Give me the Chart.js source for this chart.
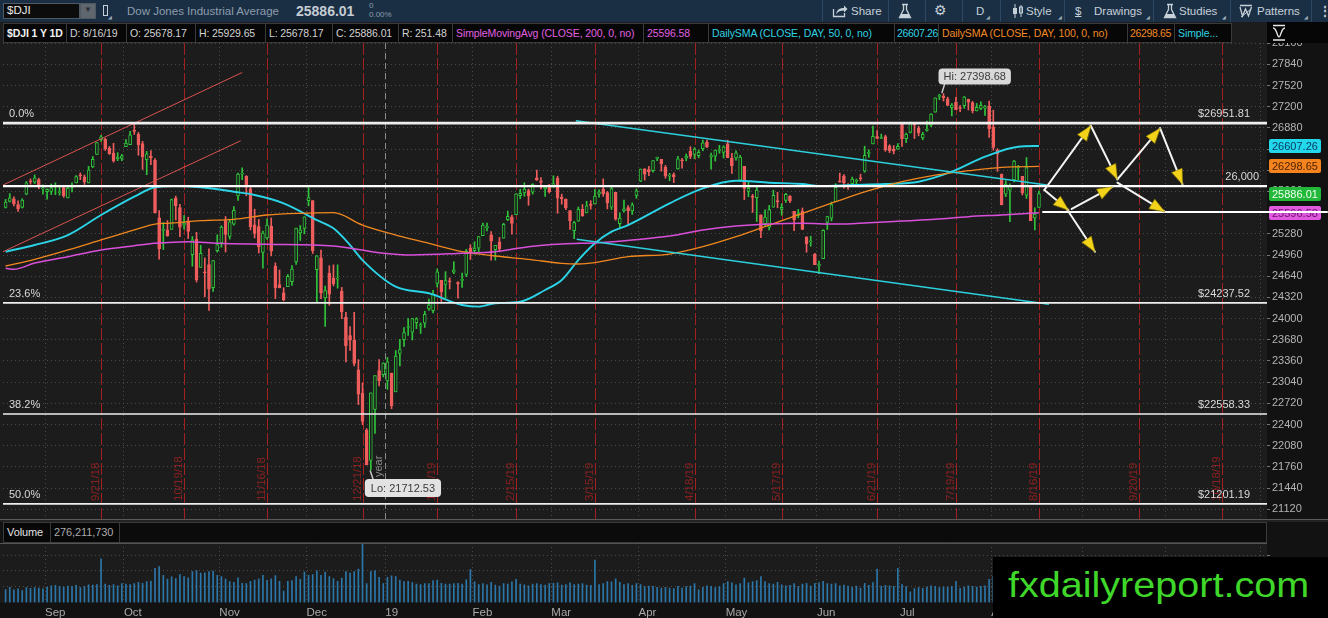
<!DOCTYPE html>
<html>
<head>
<meta charset="utf-8">
<title>$DJI 1 Y 1D</title>
<script src="https://cdn.jsdelivr.net/npm/chart.js@4.4.1/dist/chart.umd.min.js"></script>
<style>
html,body{margin:0;padding:0;background:#0b0b0b;overflow:hidden;}
#root{position:relative;width:1328px;height:618px;overflow:hidden;font-family:"Liberation Sans",Arial,sans-serif;background:#121212;}
.a{position:absolute;white-space:nowrap;}
#top{left:0;top:0;width:1328px;height:22px;background:#1a2f44;}
.tt{top:4px;font-size:11.5px;color:#c6d0d9;line-height:14px;}
.sep{top:0;width:1px;height:22px;background:#2c4862;}
.corner{font-size:5px;color:#9fb0bf;top:14px;}
#leg{left:0;top:22px;width:1328px;height:21px;background:#1c1c1c;}
.cell{top:1px;height:20px;line-height:19px;font-size:10.5px;letter-spacing:-0.1px;color:#d2d2d2;background:#070707;border:1px solid #3a3a3a;border-left:none;padding-left:3px;box-sizing:border-box;overflow:hidden;}
.num{letter-spacing:-0.35px;padding-left:2px;}
.mag{color:#e060e0;} .cya{color:#2fd3e3;} .ora{color:#f08a26;}
canvas{position:absolute;left:0;}
</style>
</head>
<body>
<div id="root">
  <div id="top" class="a">
    <div class="a" style="left:3px;top:3px;width:77px;height:16px;background:#0c0c0c;border:1px solid #4d5a66;box-sizing:border-box;"></div>
    <div class="a" style="left:7px;top:4px;font-size:11.5px;color:#e8e8e8;">$DJI</div>
    <div class="a" style="left:80px;top:3px;width:16px;height:16px;background:#5f666d;box-sizing:border-box;border:1px solid #4d5a66;"></div>
    <div class="a" style="left:84px;top:5px;font-size:8px;color:#2a2f35;">▼</div>
    <div class="a" style="left:103px;top:5px;width:5px;height:11px;border:1px solid #c6d0d9;box-sizing:border-box;"></div>
    <div class="a corner" style="left:108px;">◢</div>
    <div class="a tt" style="left:127px;color:#8d9dac;">Dow Jones Industrial Average</div>
    <div class="a" style="left:296px;top:3px;font-size:14px;font-weight:bold;color:#c5ccd3;">25886.01</div>
    <div class="a" style="left:369px;top:1px;font-size:8px;color:#8d9dac;line-height:9px;">0<br>0.00%</div>

    <div class="a sep" style="left:822px;"></div>
    <svg class="a" style="left:832px;top:4px;" width="16" height="14" viewBox="0 0 16 14"><path d="M1.5 5v7.5h11V9" stroke="#c6d0d9" stroke-width="1.3" fill="none"/><path d="M4 10c1-4.5 4-6 8-6V1.5l3.5 3.5L12 8.5V6.5c-3.5 0-6 1-8 3.5z" fill="#c6d0d9"/></svg>
    <div class="a tt" style="left:851px;">Share</div>
    <div class="a sep" style="left:888px;"></div>
    <svg class="a" style="left:898px;top:3px;" width="14" height="16" viewBox="0 0 14 16"><path d="M4 1.5h6M5.5 1.5v5L1.5 14.5h11L8.5 6.5v-5" stroke="#c6d0d9" stroke-width="1.3" fill="none"/><path d="M3.2 11h7.6l1.4 3.2H1.8z" fill="#c6d0d9"/></svg>
    <div class="a sep" style="left:925px;"></div>
    <div class="a" style="left:934px;top:2px;font-size:14px;color:#c6d0d9;font-family:'DejaVu Sans';">⚙</div>
    <div class="a sep" style="left:962px;"></div>
    <div class="a tt" style="left:976px;">D</div>
    <div class="a corner" style="left:986px;">◢</div>
    <div class="a sep" style="left:1000px;"></div>
    <svg class="a" style="left:1012px;top:4px;" width="12" height="14" viewBox="0 0 12 14"><path d="M3 0v14M9 1v12" stroke="#c6d0d9" stroke-width="1"/><rect x="1" y="4" width="4" height="6" fill="#c6d0d9"/><rect x="7.5" y="3" width="3" height="6" fill="none" stroke="#c6d0d9"/></svg>
    <div class="a tt" style="left:1026px;">Style</div>
    <div class="a corner" style="left:1058px;">◢</div>
    <div class="a sep" style="left:1064px;"></div>
    <div class="a tt" style="left:1075px;text-decoration:underline;">$</div>
    <div class="a tt" style="left:1094px;">Drawings</div>
    <div class="a corner" style="left:1146px;">◢</div>
    <div class="a sep" style="left:1153px;"></div>
    <svg class="a" style="left:1163px;top:3px;" width="14" height="16" viewBox="0 0 14 16"><path d="M4 1.5h6M5.5 1.5v5L1.5 14.5h11L8.5 6.5v-5" stroke="#c6d0d9" stroke-width="1.3" fill="none"/><path d="M3.2 11h7.6l1.4 3.2H1.8z" fill="#c6d0d9"/></svg>
    <div class="a tt" style="left:1179px;">Studies</div>
    <div class="a corner" style="left:1222px;">◢</div>
    <div class="a sep" style="left:1230px;"></div>
    <svg class="a" style="left:1239px;top:4px;" width="14" height="14" viewBox="0 0 14 14"><path d="M1 1.5h12M1 3l2.5 9 3-7 3 7L12.5 3" stroke="#c6d0d9" stroke-width="1.3" fill="none"/><path d="M2 13L12 5" stroke="#c6d0d9" stroke-width="1"/></svg>
    <div class="a tt" style="left:1257px;">Patterns</div>
    <div class="a corner" style="left:1304px;">◢</div>
    <div class="a sep" style="left:1311px;"></div>
    <div class="a tt" style="left:1319px;font-weight:bold;">⋮</div>
  </div>

  <div id="leg" class="a">
    <div class="a cell" style="left:3px;width:64px;border-left:1px solid #3a3a3a;color:#f2f2f2;font-weight:bold;">$DJI 1 Y 1D</div>
    <div class="a cell" style="left:67px;width:60px;">D: 8/16/19</div>
    <div class="a cell" style="left:127px;width:69px;">O: 25678.17</div>
    <div class="a cell" style="left:196px;width:70px;">H: 25929.65</div>
    <div class="a cell" style="left:266px;width:67px;">L: 25678.17</div>
    <div class="a cell" style="left:333px;width:66px;">C: 25886.01</div>
    <div class="a cell" style="left:399px;width:54px;">R: 251.48</div>
    <div class="a cell mag" style="left:453px;width:191px;">SimpleMovingAvg (CLOSE, 200, 0, no)</div>
    <div class="a cell mag" style="left:644px;width:65px;">25596.58</div>
    <div class="a cell cya" style="left:709px;width:186px;">DailySMA (CLOSE, DAY, 50, 0, no)</div>
    <div class="a cell cya num" style="left:895px;width:44px;">26607.26</div>
    <div class="a cell ora" style="left:939px;width:189px;">DailySMA (CLOSE, DAY, 100, 0, no)</div>
    <div class="a cell ora num" style="left:1128px;width:47px;">26298.65</div>
    <div class="a cell cya" style="left:1175px;width:57px;">Simple...</div>
    <div class="a" style="left:1267px;top:0;width:61px;height:21px;background:#060606;"></div>
    <svg class="a" style="left:1270px;top:1px;" width="20" height="19" viewBox="0 0 20 19"><path d="M3 2.5h12M3 17h12" stroke="#e6e6e6" stroke-width="1.6"/><path d="M3 14c4 0 4-9 6-9s2 9 6 9" stroke="#e6e6e6" stroke-width="1.4" fill="none" transform="scale(1,-1) translate(0,-19)"/></svg>
  </div>

  <canvas id="pc" width="1328" height="476" style="top:43px;"></canvas>

  <div class="a" style="left:0;top:519px;width:1328px;height:3px;background:#222;border-top:1px solid #5a5a5a;box-sizing:border-box;"></div>
  <div class="a" style="left:0;top:522px;width:1328px;height:21px;background:#121212;">
    <div class="a" style="left:3px;top:0;width:1264px;height:21px;background:#0b0b0b;border:1px solid #3a3a3a;box-sizing:border-box;"></div>
    <div class="a cell" style="left:3px;top:0;width:48px;height:21px;border-left:1px solid #3a3a3a;color:#e2e2e2;font-size:11px;">Volume</div>
    <div class="a cell" style="left:51px;top:0;width:69px;height:21px;color:#a9a9a9;font-size:11px;">276,211,730</div>
  </div>

  <canvas id="vc" width="1328" height="75" style="top:543px;"></canvas>

  <div class="a" style="left:993px;top:557px;width:335px;height:61px;background:#000;overflow:hidden;">
    <div class="a" style="left:15px;top:8px;font-size:35px;line-height:40px;color:#3fd82a;transform:scaleX(1.13);transform-origin:0 0;font-family:'Liberation Sans',Arial,sans-serif;">fxdailyreport.com</div>
  </div>
</div>

<script>
// ---------------- DATA ----------------
const DATES = ("8/20/18 8/21/18 8/22/18 8/23/18 8/24/18 8/27/18 8/28/18 8/29/18 8/30/18 8/31/18 " +
"9/4/18 9/5/18 9/6/18 9/7/18 9/10/18 9/11/18 9/12/18 9/13/18 9/14/18 9/17/18 9/18/18 9/19/18 9/20/18 9/21/18 9/24/18 9/25/18 9/26/18 9/27/18 9/28/18 " +
"10/1/18 10/2/18 10/3/18 10/4/18 10/5/18 10/8/18 10/9/18 10/10/18 10/11/18 10/12/18 10/15/18 10/16/18 10/17/18 10/18/18 10/19/18 10/22/18 10/23/18 10/24/18 10/25/18 10/26/18 10/29/18 10/30/18 10/31/18 " +
"11/1/18 11/2/18 11/5/18 11/6/18 11/7/18 11/8/18 11/9/18 11/12/18 11/13/18 11/14/18 11/15/18 11/16/18 11/19/18 11/20/18 11/21/18 11/23/18 11/26/18 11/27/18 11/28/18 11/29/18 11/30/18 " +
"12/3/18 12/4/18 12/6/18 12/7/18 12/10/18 12/11/18 12/12/18 12/13/18 12/14/18 12/17/18 12/18/18 12/19/18 12/20/18 12/21/18 12/24/18 12/26/18 12/27/18 12/28/18 12/31/18 " +
"1/2/19 1/3/19 1/4/19 1/7/19 1/8/19 1/9/19 1/10/19 1/11/19 1/14/19 1/15/19 1/16/19 1/17/19 1/18/19 1/22/19 1/23/19 1/24/19 1/25/19 1/28/19 1/29/19 1/30/19 1/31/19 " +
"2/1/19 2/4/19 2/5/19 2/6/19 2/7/19 2/8/19 2/11/19 2/12/19 2/13/19 2/14/19 2/15/19 2/19/19 2/20/19 2/21/19 2/22/19 2/25/19 2/26/19 2/27/19 2/28/19 " +
"3/1/19 3/4/19 3/5/19 3/6/19 3/7/19 3/8/19 3/11/19 3/12/19 3/13/19 3/14/19 3/15/19 3/18/19 3/19/19 3/20/19 3/21/19 3/22/19 3/25/19 3/26/19 3/27/19 3/28/19 3/29/19 " +
"4/1/19 4/2/19 4/3/19 4/4/19 4/5/19 4/8/19 4/9/19 4/10/19 4/11/19 4/12/19 4/15/19 4/16/19 4/17/19 4/18/19 4/22/19 4/23/19 4/24/19 4/25/19 4/26/19 4/29/19 4/30/19 " +
"5/1/19 5/2/19 5/3/19 5/6/19 5/7/19 5/8/19 5/9/19 5/10/19 5/13/19 5/14/19 5/15/19 5/16/19 5/17/19 5/20/19 5/21/19 5/22/19 5/23/19 5/24/19 5/28/19 5/29/19 5/30/19 5/31/19 " +
"6/3/19 6/4/19 6/5/19 6/6/19 6/7/19 6/10/19 6/11/19 6/12/19 6/13/19 6/14/19 6/17/19 6/18/19 6/19/19 6/20/19 6/21/19 6/24/19 6/25/19 6/26/19 6/27/19 6/28/19 " +
"7/1/19 7/2/19 7/3/19 7/5/19 7/8/19 7/9/19 7/10/19 7/11/19 7/12/19 7/15/19 7/16/19 7/17/19 7/18/19 7/19/19 7/22/19 7/23/19 7/24/19 7/25/19 7/26/19 7/29/19 7/30/19 7/31/19 " +
"8/1/19 8/2/19 8/5/19 8/6/19 8/7/19 8/8/19 8/9/19 8/12/19 8/13/19 8/14/19 8/15/19 8/16/19").split(' ');

const OPEN = [
25680,25770,25810,25720,25680,25880,26080,26060,26100,25960,
25917,25920,25991,25903,25979,25821,25982,26049,26160,26140,26050,26290,26480,26700,26706,26572,26500,26410,26420,
26598,26626,26833,26787,26643,26399,26454,26389,25523,25333,25341,25348,25820,25678,25412,25478,24964,25201,24774,24706,24815,24466,25025,
25144,25479,25242,25426,25851,26182,26150,25960,25415,25388,25001,25219,25395,24792,24512,24390,24482,24556,24856,25294,25360,
25779,25781,24739,24918,24311,24688,24613,24597,24410,24024,23743,23670,23225,22871,22317,21857,22629,23213,23154,
23058,23177,22894,23474,23680,23865,23794,23938,23884,23931,24146,24120,24530,24578,24516,24559,24701,24538,24578,24668,25063,
25025,25062,25254,25371,25265,25040,25161,25214,25493,25533,25569,25857,25898,25933,25910,26126,26080,25962,25979,
26019,26122,25836,25802,25631,25326,25471,25650,25596,25715,25730,25879,25956,25904,25681,25905,25435,25625,25676,25625,25860,
26076,26263,26250,26233,26420,26404,26288,26152,26175,26261,26395,26424,26527,26478,26462,26567,26664,26443,26454,26536,26509,
26639,26420,26428,26092,26300,25919,25850,25826,25565,25433,25382,25682,25783,25650,25784,25849,25621,25557,25625,25234,25158,24970,
24795,24906,25452,25517,25767,26073,26153,26009,26037,26071,26115,26226,26494,26637,26750,26719,26750,26608,26555,26560,
26964,26717,26812,26934,26876,26727,26843,26921,27116,27355,27360,27319,27185,27265,27185,27214,27313,27263,27135,27173,27178,27209,
26891,26544,26184,25880,25939,26094,26279,26149,25865,26009,25522,25678];

const HIGH = [
25800,25888,25840,25780,25810,26070,26110,26170,26120,26020,
25961,26032,26050,26013,25999,25986,26049,26158,26200,26168,26300,26448,26657,26769,26724,26600,26646,26506,26480,
26705,26828,26952,26811,26677,26525,26536,26415,25630,25450,25480,25805,25850,25724,25557,25531,25240,25304,25107,24916,25052,24876,25265,
25402,25541,25503,25690,26198,26277,26159,25997,25652,25497,25322,25508,25520,24841,24734,24466,24665,24801,25367,25405,25538,
25980,25781,24953,25036,24489,24798,24811,24812,24471,24096,23880,24096,23380,23030,22339,22878,23139,23381,23333,
23413,23177,23518,23687,23864,24000,24002,24014,23934,24111,24296,24425,24750,24578,24709,24615,24858,24557,24687,25046,25115,
25160,25239,25442,25441,25314,25106,25226,25440,25624,25563,25883,25953,26051,25955,26036,26242,26130,26009,26027,
26155,26150,25879,25807,25631,25467,25685,25723,25773,25780,25950,25946,26110,25920,25991,25905,25597,25791,25706,25748,25958,
26259,26263,26299,26385,26438,26404,26313,26194,26200,26451,26419,26486,26595,26582,26546,26696,26695,26500,26545,26616,26610,
26695,26495,26534,26467,26300,26062,25876,25994,25565,25643,25709,25939,25908,25734,25892,25856,25621,25648,25670,25234,25244,24985,
24868,25340,25545,25760,26037,26196,26176,26040,26136,26107,26179,26603,26548,26907,26838,26786,26770,26625,26612,26641,
26964,26800,26966,26934,26903,26814,26981,27097,27333,27388,27399,27344,27248,27340,27215,27353,27313,27279,27249,27274,27219,27286,
27148,26567,26184,26081,26034,26390,26314,26149,26432,26009,25673,25930];

const LOW = [
25670,25760,25700,25620,25670,25870,26030,26040,25960,25880,
25802,25874,25871,25863,25831,25821,25914,26049,26098,26026,26050,26280,26480,26674,26538,26480,26361,26384,26384,
26598,26626,26782,26466,26253,26173,26325,25593,24899,25043,25243,25348,25487,25236,25352,25209,24791,24552,24774,24329,24123,24412,25004,
25078,25005,25200,25409,25784,26097,25855,25339,25218,24990,24763,25194,24947,24300,24463,24268,24482,24499,24817,25180,25280,
25703,24983,24242,24301,23881,24202,24493,24460,23999,23344,23521,23286,22702,22397,21792,21713,22267,22982,23118,
22931,22639,22894,23287,23581,23746,23677,23849,23775,23866,24122,24087,24476,24259,24306,24447,24678,24307,24470,24634,24893,
24974,25007,25254,25322,24884,24883,25008,25214,25480,25273,25569,25809,25847,25711,25879,26088,25958,25843,25895,
25981,25590,25727,25643,25347,25208,25471,25544,25596,25652,25730,25832,25847,25657,25647,25486,25358,25608,25416,25573,25817,
26068,26092,26160,26210,26386,26226,26120,26082,26054,26257,26271,26382,26415,26414,26428,26534,26582,26256,26378,26497,26425,
26429,26193,26391,26085,25798,25841,25603,25466,25222,25402,25339,25682,25673,25561,25754,25749,25329,25522,25342,25002,25093,24815,
24680,24906,25346,25474,25767,26058,25970,25951,26035,26008,26081,26211,26436,26637,26718,26717,26526,26505,26486,26555,
26601,26656,26803,26719,26760,26700,26829,26900,27116,27306,27285,27219,27061,27154,27124,27175,27150,27105,27135,27154,27068,26734,
26543,26223,25718,25841,25463,26063,26098,25867,25815,25480,25339,25678];

const CLOSE = [
25758,25822,25733,25656,25790,26050,26064,26124,25987,25965,
25952,25975,25996,25917,25857,25971,25999,26145,26154,26062,26246,26405,26657,26744,26562,26492,26385,26440,26458,
26651,26774,26828,26627,26447,26487,26430,25599,25053,25340,25250,25798,25706,25380,25444,25317,25191,24583,24984,24689,24443,24875,25116,
25381,25271,25462,25636,26181,26192,25989,25387,25287,25081,25290,25413,25018,24466,24465,24286,24640,24749,25367,25339,25538,
25826,25027,24947,24389,24423,24370,24527,24597,24101,23592,23675,23324,22859,22446,21792,22878,23139,23062,23327,
23346,22686,23433,23531,23787,23879,24001,23996,23910,24066,24207,24370,24706,24404,24575,24554,24737,24528,24580,25014,24999,
25064,25239,25411,25390,25169,25106,25053,25425,25543,25439,25883,25891,25954,25851,26031,26092,26057,25986,25916,
26026,25820,25807,25673,25473,25450,25650,25555,25703,25710,25849,25914,25887,25746,25962,25502,25516,25658,25626,25718,25929,
26258,26180,26218,26385,26425,26341,26150,26157,26143,26412,26384,26452,26450,26559,26512,26656,26597,26462,26543,26554,26593,
26430,26308,26505,26438,25965,25968,25828,25942,25325,25532,25648,25863,25764,25680,25877,25777,25490,25586,25347,25127,25170,24815,
24820,25333,25540,25720,25984,26062,26049,26005,26107,26090,26112,26465,26504,26753,26720,26728,26548,26536,26527,26600,
26718,26787,26966,26922,26806,26784,26860,27088,27332,27359,27336,27220,27223,27154,27172,27349,27270,27140,27192,27221,27199,26864,
26583,26485,25718,26030,26008,26379,26287,25897,26280,25480,25579,25886];

// volume, millions of shares
const VOLUME = [
205,240,200,215,190,235,225,235,230,215,
240,265,270,255,245,260,255,270,235,250,280,275,285,690,290,270,285,265,300,
290,285,300,320,305,330,340,540,570,430,370,405,380,440,410,390,490,505,465,470,490,495,430,
410,370,330,320,390,305,300,335,355,375,430,350,375,425,335,180,335,345,410,365,480,
430,440,500,430,480,410,380,335,385,490,465,490,530,930,300,490,505,400,300,
400,420,410,355,330,335,315,290,285,300,300,345,355,305,290,290,300,305,290,360,520,
325,285,300,280,320,275,260,300,290,325,365,290,280,265,290,300,285,275,300,
305,310,275,285,310,285,290,300,275,270,670,285,300,330,325,375,320,285,300,270,300,
285,250,260,255,240,230,240,230,220,255,230,250,260,300,200,240,265,255,235,250,300,
330,310,280,300,385,310,330,345,410,330,300,290,320,280,265,270,300,250,290,305,260,305,
310,335,300,290,300,265,275,260,245,260,230,305,270,315,530,260,270,265,255,540,
285,250,170,220,235,225,245,265,255,235,245,245,255,335,225,245,265,255,245,255,265,365,
415,375,435,355,385,315,270,285,335,355,325,276.21173];

// tick labels
const PRICE_TICKS = [21120,21440,21760,22080,22400,22720,23040,23360,23680,24000,24320,24640,24960,25280,25600,25920,26240,26560,26880,27200,27520,27840,28160];
const VOLUME_TICKS = [250,500,750];
const MONTH_TICKS  = [9.5,28.5,51.5,72.5,91.5,112.5,131.5,152.5,173.5,195.5,215.5,237.5,259.5,279.5,302.5];
const MONTH_LABELS = ['Sep','Oct','Nov','Dec','19','Feb','Mar','Apr','May','Jun','Jul','Aug','Sep','Oct','Nov'];

// moving averages (bar index, value)
const SMA200_X = [0,2,7,15,23,31,36,44,51,63,79,90,98,110,118,126,134,143,151,160,168,176,184,192,200,208,216,224,232,240,249];
const SMA200_Y = [24760,24745,24839,24934,25036,25101,25137,25161,25137,25122,25096,24995,24960,24986,25010,25086,25126,25146,25187,25247,25338,25398,25428,25439,25428,25448,25474,25499,25539,25565,25597];
const SMA50_X  = [0,7,15,23,31,36,41,47,55,60,67,75,79,83,86,94,102,110,114,118,124,130,134,138,142,146,150,160,168,176,184,192,196,204,212,220,228,236,244,249];
const SMA50_Y  = [25010,25111,25262,25564,25841,25983,26002,25983,25916,25866,25741,25488,25363,25111,24884,24482,24382,24205,24180,24231,24255,24432,24583,24884,25137,25312,25413,25741,25967,26082,26052,26032,26002,26017,26032,26067,26218,26445,26596,26607];
const SMA100_X = [0,7,15,23,31,36,39,47,55,63,71,79,86,94,102,110,118,126,134,138,142,150,160,168,176,184,192,200,208,216,224,232,240,249];
const SMA100_Y = [24794,24895,25036,25187,25338,25428,25439,25478,25499,25564,25590,25599,25413,25262,25137,25010,24945,24895,24835,24824,24844,24935,24975,25086,25237,25413,25590,25765,25931,26067,26168,26233,26285,26299];

// drawn studies (bar index, price)
const RED_UP_X = [-0.63, 57.0],  RED_UP_Y = [26017, 27716];
const RED_LO_X = [-0.63, 56.65], RED_LO_Y = [25010, 26686];
const CYAN_UP_X = [137.4, 250.9], CYAN_UP_Y = [26988, 26017];
const CYAN_LO_X = [137.6, 251.4], CYAN_LO_Y = [25197, 24216];
const FIB_LEVELS = [26951.81, 24237.52, 22558.33, 21201.19];
const FIB_PCT    = ['0.0%','23.6%','38.2%','50.0%'];
const FIB_TEXT   = ['$26951.81','$24237.52','$22558.33','$21201.19'];
const KEY_LEVEL = 26000, KEY_TEXT = '26,000';
const SUPPORT_LEVEL = 25610, SUPPORT_X = [249.8, 318.6];
const ARROWS = [ // [fromIndex, fromPrice, toIndex, toPrice]
  [250.3,25942,261.5,26913],[261.5,26913,267.9,26103],[267.9,26103,278.2,26874],[278.2,26874,283.6,26028],
  [250.3,25942,256.1,25640],[255.7,25655,262.5,25010],[256.9,25655,266.7,25990],[267.9,26052,279.3,25614]];
const EXP_IDX    = [23,43,63,86,104,123,142,166,187,210,229,249,273,293];
const EXP_LABELS = ['9/21/18','10/19/18','11/16/18','12/21/18','1/18/19','2/15/19','3/15/19','4/18/19','5/17/19','6/21/19','7/19/19','8/16/19','9/20/19','10/18/19'];
const YEAR_IDX = 91.5, YEAR_TEXT = 'year';
const HI_IDX = 226, HI_VAL = 27398.68, LO_IDX = 88, LO_VAL = 21712.53;
const AXIS_TAGS = [26607.26, 26298.65, 25886.01, 25596.58];

// ---------------- STYLE ----------------
const XMIN = -0.63, XMAX = 303.95, YMIN = 20973.5, YMAX = 28161.7, VMAX = 941;
const PLOT_BG = '#1c1c1c', AXIS_BG = '#121212', GREEN = '#2fc43a', RED = '#ef5d5d', GRID = '#4a4a4a';
const TAG_BG = ['#22d8ea','#f5841f','#22b83a','#e05ae0'];
const TAG_FG = ['#0b3a66','#4a1f00','#effff0','#6a106a'];

Chart.defaults.font.family = '"Liberation Sans", Arial, sans-serif';
Chart.defaults.font.size = 11;

const N = Math.min(OPEN.length, HIGH.length, LOW.length, CLOSE.length);
const IDX = Array.from({length: N}, (_, i) => i);
const isUp = i => CLOSE[i] >= OPEN[i];

function line(xs, ys, color, width, order, extra) {
  return Object.assign({
    type: 'line', data: xs.map((x, i) => ({x: x, y: ys[i]})),
    borderColor: color, borderWidth: width, pointRadius: 0, fill: false,
    tension: 0, order: order
  }, extra || {});
}

function rr(ctx, x, y, w, h, r) {
  ctx.beginPath();
  ctx.moveTo(x + r, y); ctx.lineTo(x + w - r, y); ctx.quadraticCurveTo(x + w, y, x + w, y + r);
  ctx.lineTo(x + w, y + h - r); ctx.quadraticCurveTo(x + w, y + h, x + w - r, y + h);
  ctx.lineTo(x + r, y + h); ctx.quadraticCurveTo(x, y + h, x, y + h - r);
  ctx.lineTo(x, y + r); ctx.quadraticCurveTo(x, y, x + r, y); ctx.closePath();
}

const priceOverlay = {
  id: 'priceOverlay',
  beforeDraw(chart) {
    const {ctx, chartArea: a, width, height} = chart;
    ctx.save();
    ctx.fillStyle = AXIS_BG; ctx.fillRect(0, 0, width, height);
    ctx.fillStyle = PLOT_BG; ctx.fillRect(0, 0, a.right, height);
    ctx.restore();
  },
  beforeDatasetsDraw(chart) {
    const {ctx, chartArea: a} = chart, x = chart.scales.x, y = chart.scales.y;
    ctx.save();
    ctx.beginPath(); ctx.rect(a.left, a.top, a.right - a.left, a.bottom - a.top); ctx.clip();
    // year separator
    const yx = Math.round(x.getPixelForValue(YEAR_IDX)) + 0.5;
    ctx.strokeStyle = '#8a8a8a'; ctx.lineWidth = 1; ctx.setLineDash([6, 4]);
    ctx.beginPath(); ctx.moveTo(yx, a.top); ctx.lineTo(yx, a.bottom); ctx.stroke();
    // expiration lines
    ctx.strokeStyle = '#a41f1f'; ctx.setLineDash([12, 3]);
    EXP_IDX.forEach(v => {
      const px = Math.round(x.getPixelForValue(v)) + 0.5;
      ctx.beginPath(); ctx.moveTo(px, a.top); ctx.lineTo(px, a.bottom); ctx.stroke();
    });
    ctx.setLineDash([]);
    ctx.font = '11.5px "Liberation Sans", Arial, sans-serif';
    ctx.fillStyle = '#8a2020'; ctx.textAlign = 'left'; ctx.textBaseline = 'alphabetic';
    EXP_IDX.forEach((v, i) => {
      const px = x.getPixelForValue(v);
      ctx.save(); ctx.translate(px - 2, a.bottom - 18); ctx.rotate(-Math.PI / 2);
      ctx.fillText(EXP_LABELS[i], 0, 0); ctx.restore();
    });
    ctx.fillStyle = '#8c8c8c'; ctx.font = '11px "Liberation Sans", Arial, sans-serif';
    ctx.save(); ctx.translate(yx - 4, y.getPixelForValue(LO_VAL) + 7); ctx.rotate(-Math.PI / 2);
    ctx.fillText(YEAR_TEXT, 0, 0); ctx.restore();
    ctx.restore();
    // axis value tags
    ctx.save();
    ctx.font = '11px "Liberation Sans", Arial, sans-serif'; ctx.textAlign = 'left'; ctx.textBaseline = 'middle';
    AXIS_TAGS.forEach((v, k) => {
      const py = Math.round(y.getPixelForValue(v));
      rr(ctx, a.right + 2, py - 7, 52, 14, 2); ctx.fillStyle = TAG_BG[k]; ctx.fill();
      ctx.fillStyle = TAG_FG[k]; ctx.fillText(v.toFixed(2), a.right + 5, py + 0.5);
    });
    ctx.restore();
  },
  afterDatasetsDraw(chart) {
    const {ctx, chartArea: a} = chart, x = chart.scales.x, y = chart.scales.y;
    ctx.save();
    // fib and level labels
    ctx.font = '11px "Liberation Sans", Arial, sans-serif'; ctx.fillStyle = '#dadada'; ctx.textBaseline = 'alphabetic';
    FIB_LEVELS.forEach((v, k) => {
      const py = y.getPixelForValue(v);
      ctx.textAlign = 'left'; ctx.fillText(FIB_PCT[k], a.left + 6, py - 6);
      ctx.textAlign = 'right'; ctx.fillText(FIB_TEXT[k], a.right - 17, py - 6);
    });
    ctx.textAlign = 'right'; ctx.fillText(KEY_TEXT, a.right - 8, y.getPixelForValue(KEY_LEVEL) - 6);
    // arrows
    const P = ARROWS.map(r => [x.getPixelForValue(r[0]), y.getPixelForValue(r[1]), x.getPixelForValue(r[2]), y.getPixelForValue(r[3])]);
    ctx.strokeStyle = '#f4f4f4'; ctx.lineWidth = 2; ctx.lineCap = 'round';
    P.forEach(p => { ctx.beginPath(); ctx.moveTo(p[0], p[1]); ctx.lineTo(p[2], p[3]); ctx.stroke(); });
    P.forEach(p => {
      const ang = Math.atan2(p[3] - p[1], p[2] - p[0]), L = 15, W = 5.5;
      const bx = p[2] - L * Math.cos(ang), by = p[3] - L * Math.sin(ang);
      ctx.beginPath(); ctx.moveTo(p[2], p[3]);
      ctx.lineTo(bx + W * Math.sin(ang), by - W * Math.cos(ang));
      ctx.lineTo(bx - W * Math.sin(ang), by + W * Math.cos(ang));
      ctx.closePath(); ctx.fillStyle = '#f2d31a'; ctx.fill();
      ctx.lineWidth = 0.6; ctx.strokeStyle = '#a88e00'; ctx.stroke();
    });
    // Hi / Lo bubbles
    ctx.font = '11px "Liberation Sans", Arial, sans-serif'; ctx.textBaseline = 'middle'; ctx.textAlign = 'center';
    const hx = x.getPixelForValue(HI_IDX), hy = y.getPixelForValue(HI_VAL);
    ctx.strokeStyle = '#c8c8c8'; ctx.lineWidth = 1.5;
    ctx.beginPath(); ctx.moveTo(hx + 1, hy - 9); ctx.lineTo(hx - 1.5, hy - 1); ctx.stroke();
    const ht = 'Hi: ' + HI_VAL.toFixed(2), hw = ctx.measureText(ht).width + 10;
    rr(ctx, hx - 5, hy - 25, hw, 16, 4); ctx.fillStyle = '#d9d9d9'; ctx.fill();
    ctx.fillStyle = '#3a3a3a'; ctx.fillText(ht, hx - 5 + hw / 2, hy - 16.5);
    const lx = x.getPixelForValue(LO_IDX), ly = y.getPixelForValue(LO_VAL);
    ctx.beginPath(); ctx.moveTo(lx - 0.5, ly + 1); ctx.lineTo(lx + 2.5, ly + 10); ctx.stroke();
    const lt = 'Lo: ' + LO_VAL.toFixed(2), lw = ctx.measureText(lt).width + 12;
    rr(ctx, lx - 6, ly + 9, lw, 18, 4); ctx.fillStyle = '#e2e2e2'; ctx.fill();
    ctx.fillStyle = '#3a3a3a'; ctx.fillText(lt, lx - 6 + lw / 2, ly + 18.5);
    ctx.restore();
  }
};

const priceDatasets = [
  {type: 'bar', data: IDX.map(i => ({x: i, y: [LOW[i], HIGH[i]]})), barThickness: 1, grouped: false,
   backgroundColor: c => isUp(c.dataIndex) ? GREEN : RED, borderWidth: 0, order: 6},
  {type: 'bar', data: IDX.map(i => ({x: i, y: [OPEN[i], CLOSE[i]]})), barThickness: 3, grouped: false, minBarLength: 1,
   backgroundColor: c => isUp(c.dataIndex) ? PLOT_BG : RED, borderColor: c => isUp(c.dataIndex) ? GREEN : RED,
   borderWidth: 1, borderSkipped: false, order: 5},
  line(SMA200_X, SMA200_Y, '#d850da', 1.5, 2, {cubicInterpolationMode: 'monotone'}),
  line(SMA100_X, SMA100_Y, '#f0871f', 1.3, 2, {cubicInterpolationMode: 'monotone'}),
  line(SMA50_X, SMA50_Y, '#2bd3e6', 1.9, 2, {cubicInterpolationMode: 'monotone'}),
  line(RED_UP_X, RED_UP_Y, '#d9534f', 1, 1),
  line(RED_LO_X, RED_LO_Y, '#d9534f', 1, 1),
  line(CYAN_UP_X, CYAN_UP_Y, '#2ccfdc', 1.5, 1),
  line(CYAN_LO_X, CYAN_LO_Y, '#2ccfdc', 1.5, 1)
].concat(
  FIB_LEVELS.map((v, k) => line([XMIN, XMAX], [v, v], '#eeeeee', k === 0 ? 2.6 : 1.6, 0)),
  [line([XMIN, XMAX], [KEY_LEVEL, KEY_LEVEL], '#ffffff', 2.2, 0),
   line(SUPPORT_X, [SUPPORT_LEVEL, SUPPORT_LEVEL], '#ffffff', 2, 0, {clip: false})]
);

new Chart(document.getElementById('pc'), {
  type: 'bar',
  data: {datasets: priceDatasets},
  options: {
    responsive: false, animation: false, events: [],
    layout: {padding: {left: 3, right: 0, top: 0, bottom: 0}},
    plugins: {legend: {display: false}, tooltip: {enabled: false}},
    scales: {
      x: {type: 'linear', min: XMIN, max: XMAX, offset: false,
          grid: {color: GRID, drawTicks: false, offset: false},
          border: {display: false, dash: [1, 3]},
          ticks: {display: false},
          afterBuildTicks: s => { s.ticks = MONTH_TICKS.map(v => ({value: v})); },
          afterFit: s => { s.height = 0; s.paddingLeft = 0; s.paddingRight = 0; }},
      y: {type: 'linear', position: 'right', min: YMIN, max: YMAX,
          grid: {color: GRID, drawTicks: true, tickLength: 3, tickColor: '#777', tickBorderDash: []},
          border: {display: false, dash: [1, 3]},
          ticks: {color: '#b4b4b4', padding: 2, autoSkip: false, font: {size: 11}, callback: v => String(v)},
          afterBuildTicks: s => { s.ticks = PRICE_TICKS.map(v => ({value: v})); },
          afterFit: s => { s.width = 61; s.paddingTop = 0; s.paddingBottom = 0; }}
    }
  },
  plugins: [priceOverlay]
});

const volOverlay = {
  id: 'volOverlay',
  beforeDraw(chart) {
    const {ctx, chartArea: a, width, height} = chart;
    ctx.save();
    ctx.fillStyle = AXIS_BG; ctx.fillRect(0, 0, width, height);
    ctx.fillStyle = PLOT_BG; ctx.fillRect(0, 0, a.right, a.bottom);
    ctx.restore();
  },
  afterDraw(chart) {
    const {ctx, chartArea: a} = chart;
    ctx.save(); ctx.strokeStyle = '#555'; ctx.lineWidth = 1;
    ctx.beginPath(); ctx.moveTo(0, a.top + 0.5); ctx.lineTo(a.right, a.top + 0.5); ctx.stroke();
    ctx.restore();
  }
};

new Chart(document.getElementById('vc'), {
  type: 'bar',
  data: {datasets: [{data: VOLUME.slice(0, N).map((v, i) => ({x: i, y: v})), barThickness: 1,
                     backgroundColor: '#2b77aa', borderWidth: 0, grouped: false}]},
  options: {
    responsive: false, animation: false, events: [],
    layout: {padding: {left: 3, right: 0, top: 0, bottom: 0}},
    plugins: {legend: {display: false}, tooltip: {enabled: false}},
    scales: {
      x: {type: 'linear', min: XMIN, max: XMAX, offset: false,
          grid: {color: GRID, drawTicks: false, offset: false},
          border: {display: false, dash: [1, 3]},
          ticks: {color: '#a9a9a9', align: 'start', padding: 3, autoSkip: false, maxRotation: 0, font: {size: 11.5},
                  callback: (v, i) => MONTH_LABELS[i]},
          afterBuildTicks: s => { s.ticks = MONTH_TICKS.map(v => ({value: v})); },
          afterFit: s => { s.height = 15.5; s.paddingLeft = 0; s.paddingRight = 0; }},
      y: {type: 'linear', position: 'right', min: 0, max: VMAX,
          grid: {color: GRID, drawTicks: true, tickLength: 3, tickColor: '#777', tickBorderDash: []},
          border: {display: false, dash: [1, 3]},
          ticks: {display: false},
          afterBuildTicks: s => { s.ticks = VOLUME_TICKS.map(v => ({value: v})); },
          afterFit: s => { s.width = 61; s.paddingTop = 0; s.paddingBottom = 0; }}
    }
  },
  plugins: [volOverlay]
});
</script>
</body>
</html>
